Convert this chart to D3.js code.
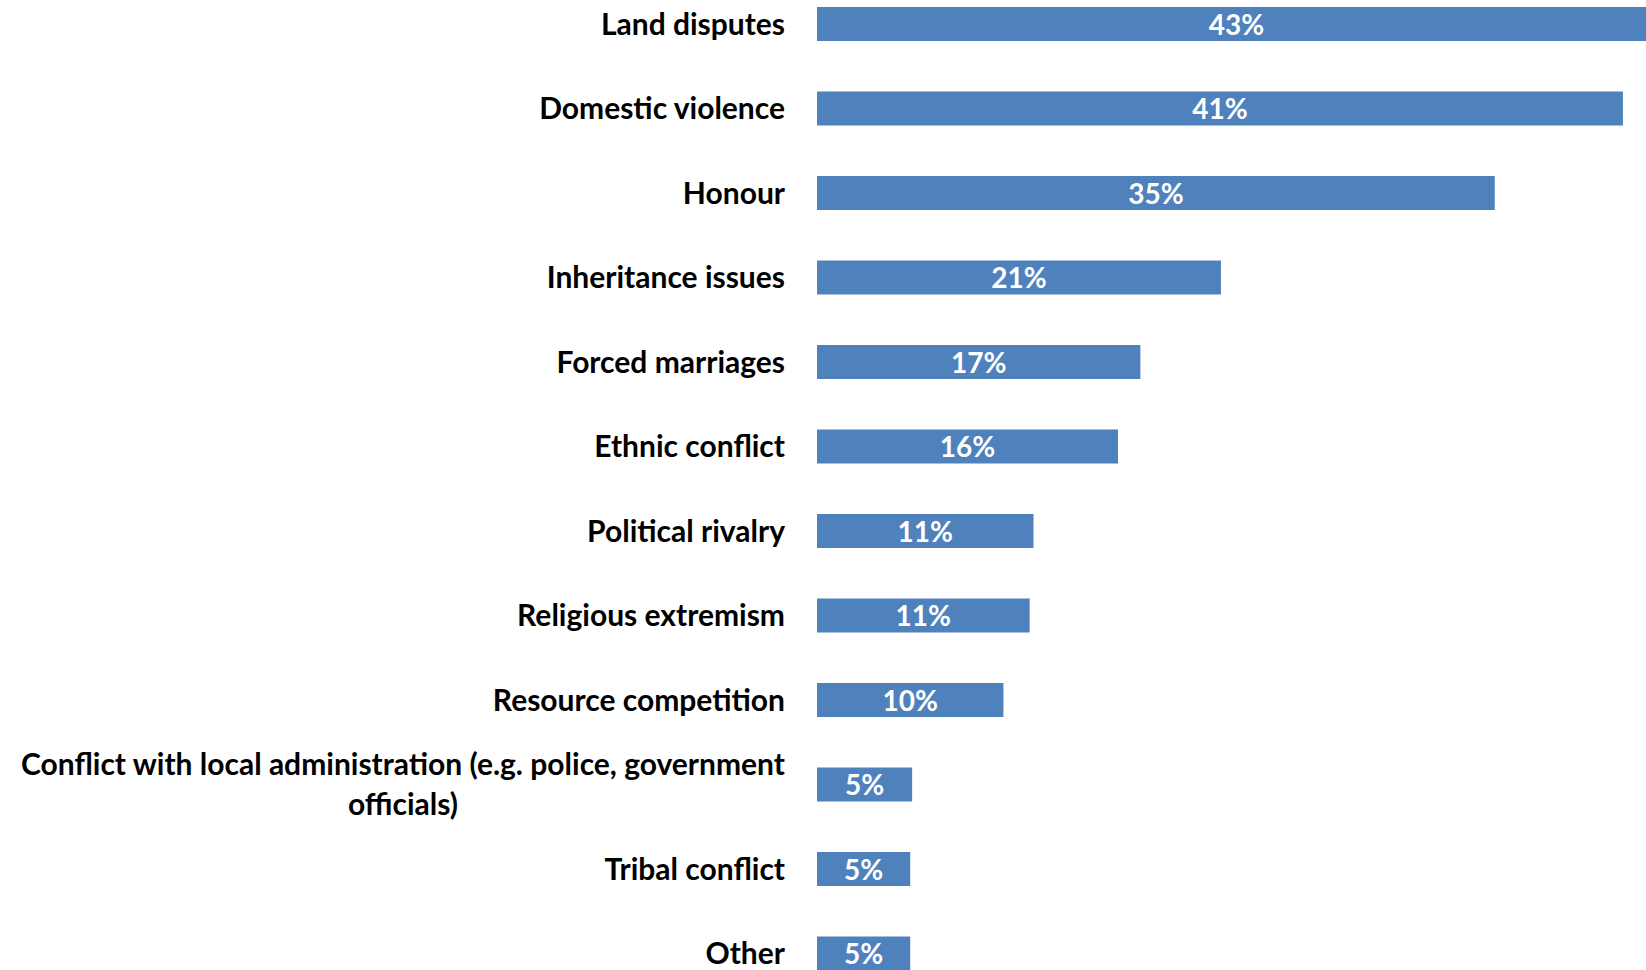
<!DOCTYPE html>
<html>
<head>
<meta charset="utf-8">
<script src="https://cdn.jsdelivr.net/npm/d3@7"></script>
<style>
  html, body { margin: 0; padding: 0; background: #ffffff; overflow: hidden; }
  svg { display: block; }
</style>
</head>
<body>
<svg id="chart" width="1646" height="970"></svg>
<script>
// ---- data ----
const categories = [
  "Land disputes",
  "Domestic violence",
  "Honour",
  "Inheritance issues",
  "Forced marriages",
  "Ethnic conflict",
  "Political rivalry",
  "Religious extremism",
  "Resource competition",
  "Conflict with local administration (e.g. police, government officials)",
  "Tribal conflict",
  "Other"
];
const values = [43.2, 41.5, 34.9, 20.8, 16.65, 15.5, 11.15, 10.95, 9.6, 4.9, 4.8, 4.8];
const valueLabels = ["43%", "41%", "35%", "21%", "17%", "16%", "11%", "11%", "10%", "5%", "5%", "5%"];
const wrappedLabels = {
  "Conflict with local administration (e.g. police, government officials)":
    ["Conflict with local administration (e.g. police, government", "officials)"]
};

// ---- layout ----
const W = 1646, H = 970;
const svg = d3.select("#chart");
const fontFamily = "Lato, 'Open Sans', 'DejaVu Sans', sans-serif";
const barColor = "#4F81BD";

const x = d3.scaleLinear().domain([0, 45]).range([817, 817 + 45 * 19.42]);
const step = 84.5, bandH = 34;
const pIn = 1 - bandH / step;
const yStart = 7 - step * pIn / 2;
const y = d3.scaleBand()
  .domain(categories)
  .range([yStart, yStart + categories.length * step])
  .paddingInner(pIn)
  .paddingOuter(pIn / 2);

const data = categories.map((c, i) => ({ cat: c, v: values[i], label: valueLabels[i] }));

const g = svg.append("g");

g.selectAll("rect.bar")
  .data(data)
  .join("rect")
  .attr("class", "bar")
  .attr("x", x(0))
  .attr("y", d => y(d.cat))
  .attr("width", d => x(d.v) - x(0))
  .attr("height", y.bandwidth())
  .attr("fill", barColor);

g.selectAll("text.val")
  .data(data)
  .join("text")
  .attr("class", "val")
  .attr("x", d => (x(0) + x(d.v)) / 2)
  .attr("y", d => y(d.cat) + y.bandwidth() / 2)
  .attr("dy", "0.38em")
  .attr("text-anchor", "middle")
  .attr("font-family", fontFamily)
  .attr("font-weight", "bold")
  .attr("font-size", 28)
  .attr("fill", "#ffffff")
  .text(d => d.label);

// category labels (axis-like, right aligned)
const labelRight = 785;
const lineH = 40;
data.forEach(d => {
  const cy = y(d.cat) + y.bandwidth() / 2;
  const lines = wrappedLabels[d.cat] || [d.cat];
  const t = g.append("g");
  const texts = lines.map((ln, j) =>
    t.append("text")
      .attr("y", cy + (j - (lines.length - 1) / 2) * lineH)
      .attr("dy", "0.36em")
      .attr("font-family", fontFamily)
      .attr("font-weight", "bold")
      .attr("font-size", 30)
      .attr("fill", "#000000")
      .text(ln)
  );
  if (lines.length === 1) {
    texts[0].attr("x", labelRight).attr("text-anchor", "end");
  } else {
    const maxW = d3.max(texts, tx => tx.node().getComputedTextLength());
    texts.forEach(tx => tx.attr("x", labelRight - maxW / 2).attr("text-anchor", "middle"));
  }
});
</script>
</body>
</html>
